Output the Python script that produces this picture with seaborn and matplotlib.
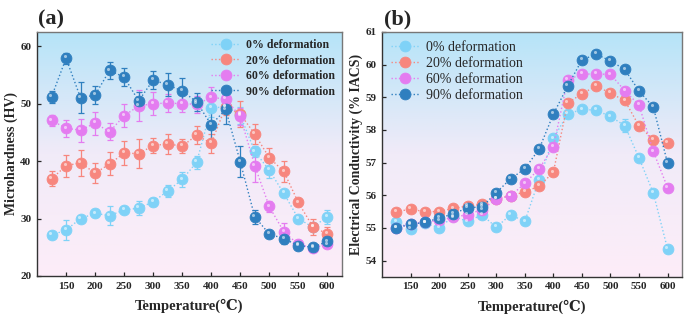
import numpy as np
import pandas as pd
import matplotlib
matplotlib.use("Agg")
import matplotlib.pyplot as plt
import matplotlib.transforms as mtransforms
from matplotlib.colors import LinearSegmentedColormap
import seaborn as sns

# data
temps = [125, 150, 175, 200, 225, 250, 275, 300, 325, 350,
         375, 400, 425, 450, 475, 500, 525, 550, 575, 600]
labels = ["0% deformation", "20% deformation", "60% deformation", "90% deformation"]
colors = ["#7fd2f7", "#f7867e", "#e47cf0", "#2f7fbf"]

# (a) microhardness
hv_0 = [27.1, 28.0, 30.0, 30.9, 30.5, 31.5, 31.8, 32.9, 34.8, 36.8,
        39.8, 49.2, 49.5, 48.0, 41.7, 38.4, 34.4, 30.0, 28.5, 30.3]
hv_20 = [36.9, 39.2, 39.7, 37.9, 39.5, 41.4, 41.3, 42.7, 43.0, 42.6,
         44.5, 43.1, 49.5, 48.2, 44.7, 40.6, 38.2, 32.8, 28.6, 27.3]
hv_60 = [47.1, 45.7, 45.4, 46.6, 45.1, 47.9, 49.6, 50.0, 50.1, 50.0,
         49.9, 51.1, 50.8, 47.8, 39.2, 32.1, 27.7, 25.5, 24.9, 25.5]
hv_90 = [51.2, 57.9, 51.0, 51.5, 55.8, 54.6, 50.5, 54.1, 53.3, 52.2,
         50.3, 46.3, 49.0, 39.9, 30.3, 27.3, 26.5, 25.3, 25.0, 26.0]
hv_err_0 = [0.5, 1.8, 0.5, 0.7, 1.7, 0.5, 1.2, 0.7, 1.0, 1.3,
            1.1, 1.5, 1.0, 1.5, 1.0, 1.3, 0.5, 0.5, 0.5, 1.2]
hv_err_20 = [1.3, 1.9, 2.3, 1.7, 2.0, 2.1, 2.5, 1.3, 1.8, 1.2,
             1.6, 1.7, 1.5, 2.2, 1.7, 1.6, 1.9, 0.5, 1.4, 1.3]
hv_err_60 = [1.0, 1.5, 2.0, 2.0, 1.5, 2.0, 2.7, 2.0, 1.5, 1.5,
             1.5, 1.8, 1.8, 1.5, 2.8, 1.0, 1.5, 0.5, 0.5, 0.5]
hv_err_90 = [1.0, 1.0, 2.7, 1.5, 1.5, 1.6, 1.5, 1.6, 2.0, 2.2,
             1.5, 2.8, 2.5, 2.7, 1.2, 0.5, 1.0, 0.5, 0.7, 1.0]

# (b) electrical conductivity
ec_0 = [55.18, 54.98, 55.15, 55.0, 55.35, 55.2, 55.4, 55.02, 55.4, 55.2,
        56.48, 57.74, 58.48, 58.63, 58.6, 58.41, 58.13, 57.14, 56.07, 54.35]
ec_20 = [55.5, 55.57, 55.5, 55.5, 55.6, 55.67, 55.72, 55.9, 55.98, 56.1,
         56.28, 56.7, 58.83, 59.1, 59.35, 59.12, 58.9, 58.12, 57.7, 57.59]
ec_60 = [55.0, 55.13, 55.17, 55.23, 55.32, 55.41, 55.56, 55.88, 55.98, 56.36,
         56.81, 57.48, 59.53, 59.71, 59.71, 59.7, 59.2, 58.76, 57.34, 56.23]
ec_90 = [55.0, 55.11, 55.17, 55.3, 55.43, 55.62, 55.64, 56.08, 56.5, 56.81,
         57.41, 58.48, 59.34, 60.14, 60.32, 60.11, 59.85, 59.19, 58.7, 56.98]
ec_err_0 = [0.05] * 12 + [0.05, 0.05, 0.05, 0.05, 0.2, 0.05, 0.05, 0.05]

hv_series = [hv_0, hv_20, hv_60, hv_90]
hv_errs = [hv_err_0, hv_err_20, hv_err_60, hv_err_90]
ec_series = [ec_0, ec_20, ec_60, ec_90]
ec_errs = [ec_err_0, [0.05] * 20, [0.05] * 20, [0.05] * 20]

sns.set_theme(style="ticks")
plt.rcParams["font.family"] = ["Liberation Serif", "DejaVu Serif"]
plt.rcParams["font.weight"] = "bold"
plt.rcParams["axes.labelweight"] = "bold"

fig = plt.figure(figsize=(6.99, 3.22), dpi=100)
ax_a = fig.add_axes([0.053, 0.143, 0.436, 0.758])
ax_b = fig.add_axes([0.5465, 0.14, 0.429, 0.761])

grad = LinearSegmentedColormap.from_list("bg", ["#fdedf8", "#f1ebf8", "#b5e4f8"])


def draw_panel(ax, series, errs, ylim, yticks, ylabel, legend_loc, legend_bold):
    ax.imshow(np.linspace(0, 1, 256).reshape(-1, 1), cmap=grad, origin="lower",
              extent=[0, 1, 0, 1], transform=ax.transAxes, aspect="auto", zorder=0)
    shine = ax.transData + mtransforms.ScaledTranslation(-0.9 / 72, 1.3 / 72, fig.dpi_scale_trans)
    for vals, err, col, lab in zip(series, errs, colors, labels):
        df = pd.DataFrame({"T": temps, "v": vals})
        ax.errorbar(temps, vals, yerr=err, fmt="none", ecolor=col, elinewidth=0.9,
                    capsize=2.5, capthick=0.9, zorder=3)
        sns.lineplot(data=df, x="T", y="v", ax=ax, color=col, linestyle=":", linewidth=1.0,
                     marker="o", markersize=7.8, markeredgecolor=col, markeredgewidth=0.6,
                     label=lab, zorder=4)
        ax.scatter(temps, vals, s=5, color="white", alpha=0.55, linewidths=0,
                   transform=shine, zorder=5)
    ax.set_xlim(100, 625)
    ax.set_ylim(*ylim)
    ax.set_xticks([150, 200, 250, 300, 350, 400, 450, 500, 550, 600])
    ax.set_yticks(yticks)
    ax.tick_params(direction="in", length=3, width=0.9, labelsize=8, pad=4)
    for t in ax.get_xticklabels() + ax.get_yticklabels():
        t.set_fontweight("bold")
    ax.set_xlabel("Temperature(℃)", fontsize=10.5, fontweight="bold", labelpad=6)
    ax.set_ylabel(ylabel, fontsize=10, fontweight="bold", labelpad=2)
    for side in ["left", "bottom"]:
        ax.spines[side].set_color("#333333")
        ax.spines[side].set_linewidth(1.0)
    for side in ["top", "right"]:
        ax.spines[side].set_color("#777777")
        ax.spines[side].set_linewidth(1.0)
    if legend_bold:
        leg = ax.legend(loc=legend_loc, frameon=False, handlelength=2.4,
                        labelspacing=0.3, borderaxespad=0.2, handletextpad=0.5,
                        prop={"weight": "bold", "size": 8.5})
    else:
        leg = ax.legend(loc=legend_loc, frameon=False, handlelength=2.0,
                        labelspacing=0.22, borderaxespad=0.25, handletextpad=0.5,
                        prop={"weight": "normal", "size": 10})
    return leg


draw_panel(ax_a, hv_series, hv_errs, (20, 62.5), [20, 30, 40, 50, 60],
           "Microhardness (HV)", "upper right", True)
draw_panel(ax_b, ec_series, ec_errs, (53.5, 61), [54, 55, 56, 57, 58, 59, 60, 61],
           "Electrical Conductivity (% IACS)", "upper left", False)

fig.text(0.055, 0.925, "(a)", fontsize=16, fontweight="bold")
fig.text(0.55, 0.925, "(b)", fontsize=16, fontweight="bold")

fig.savefig("out.png", dpi=100)
